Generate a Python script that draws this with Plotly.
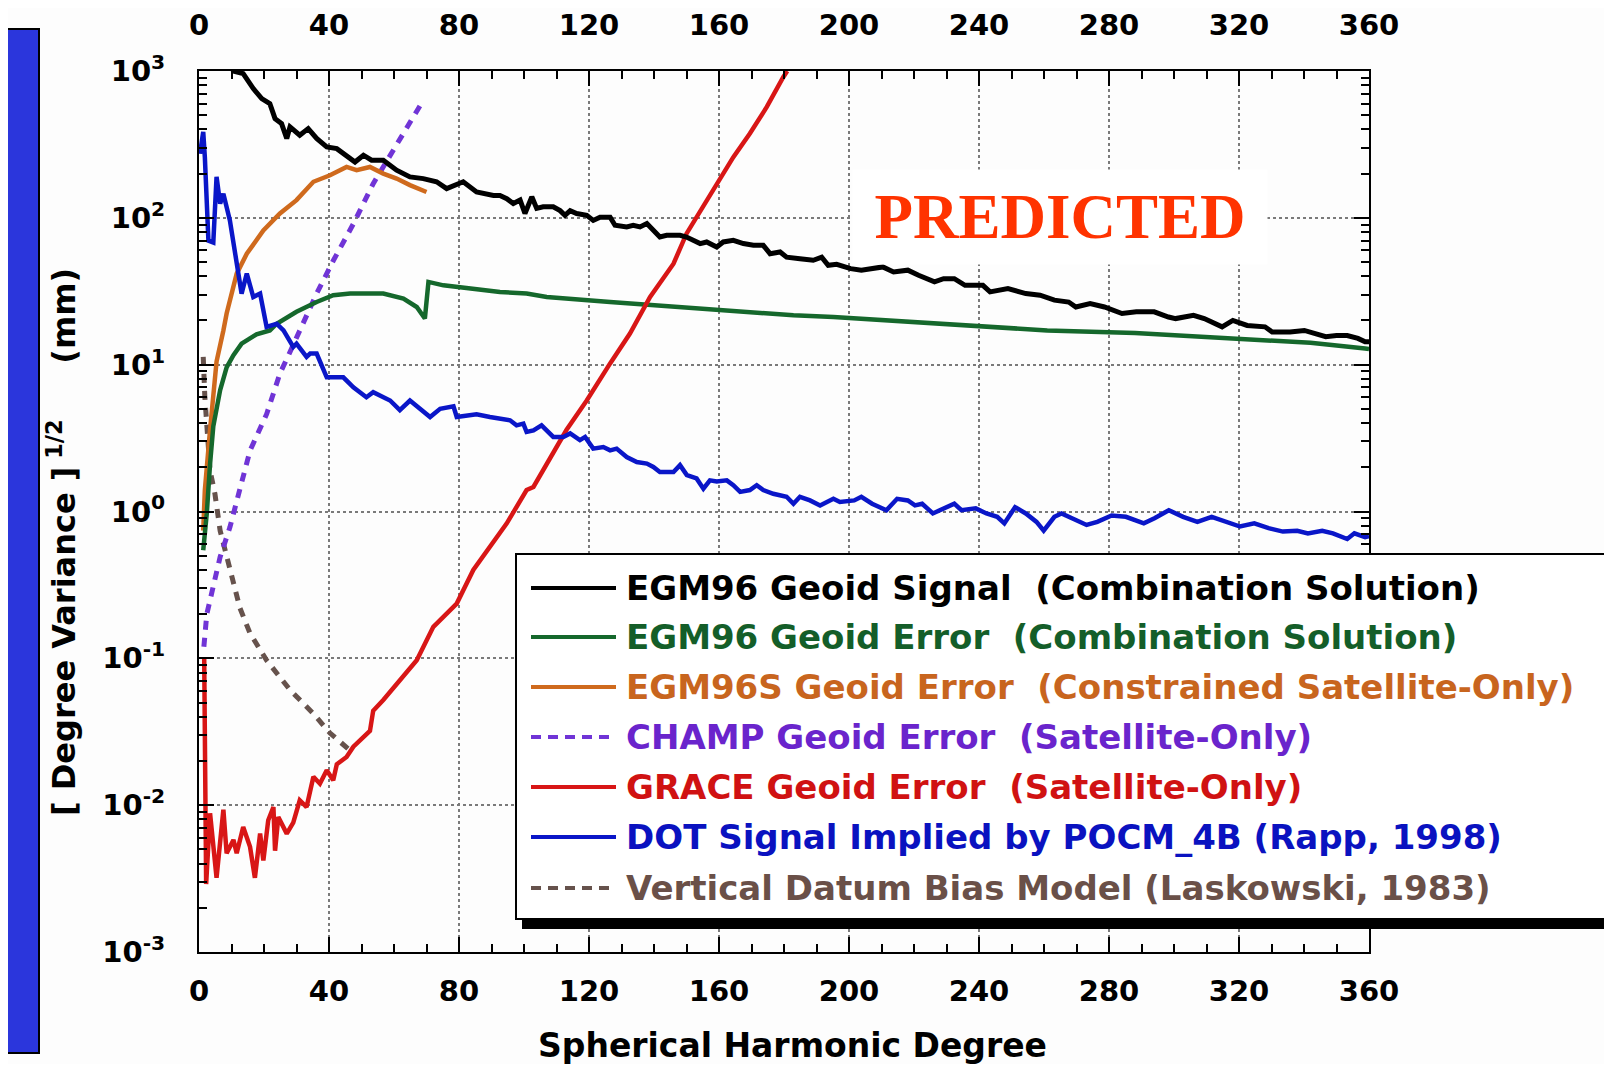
import plotly.graph_objects as go

# ---------------- data ----------------
signal_deg = [8, 10.6, 13.6, 16.7, 19.3, 21.8, 23.4, 25.4, 27, 28, 31, 33.6, 36.2, 39.3, 42.4, 44.4, 48,
              50.6, 53.1, 56.7, 60.8, 64.9, 69, 73.1, 76.2, 81.3, 85.4, 90.6,
              92.6, 94.7, 96.7, 98.8, 100.3, 102.4, 103.9, 105.9, 109, 111.1, 112.6, 114.2, 116.2, 119.3,
              121.3, 123.4, 126.5, 128, 131.6, 133.6, 135.7, 137.8, 139.8, 141.8, 143.9, 148, 150, 152.1,
              154.2, 156.2, 159.3, 161.3, 164.4, 167.5, 170.6, 173.6, 175.7, 178.8, 180.8, 184.9, 189,
              191.6, 193.6, 196.2, 200.5, 203.8, 208.2, 210.4, 213.7, 218.1, 221.4, 226.3, 229.1, 232.4,
              235.7, 241.2, 243.4, 248.9, 254.4, 258.8, 263.2, 267.6, 269.8, 274.2, 278.6, 284, 288.4,
              293.9, 298.3, 300.5, 306, 309.3, 314.8, 318.1, 322.5, 328, 330.2, 335.7, 340.1, 344.5,
              346.7, 350, 353.3, 356.6, 358.8, 360]
signal_val = [1300, 1000, 960, 759, 649, 600, 474, 438, 347, 416, 365, 405, 347, 304, 296, 273, 240,
              267, 247, 247, 211, 190, 185, 176, 158, 176, 150, 142,
              142, 135, 125, 132, 107, 139, 116, 119, 119, 112, 104, 112, 107, 104,
              96, 101, 101, 89, 86.7, 89, 86.7, 91.4, 82.2, 74, 76, 76, 74, 70.3,
              66.8, 68.5, 63.3, 68.5, 70.3, 66.8, 65, 65, 57, 58.5, 54, 52.7, 51.4,
              54, 47.5, 48.3, 45.1, 44, 45.1, 46.3, 42.8, 44, 40.6, 36.6, 38.5, 38.5,
              34.7, 34.7, 31.3, 33, 30.5, 29.7, 27.5, 26.7, 24.7, 26.1, 24.7, 22.3, 22.9,
              22.9, 21.1, 20.6, 21.7, 20.6, 18.1, 20, 18.5, 18.1, 16.7, 16.7, 17.1, 15.8,
              15.5, 15.8, 15.8, 15.1, 14.3, 14.3]

egm_err_deg = [1.3, 2.4, 3.4, 4.4, 6.5, 8.5, 10.6, 13.1, 17.7, 21.8, 23.9, 30, 36.2, 41.3, 46.5, 56.7,
               62.9, 67, 69.5, 70.6, 75.2, 84.4, 92.6, 100.8, 107, 126.5, 147, 169.5, 182.9, 195.2,
               207.5, 220.5, 235.7, 261, 288, 316, 342, 358.8, 360]
egm_err_val = [0.545, 0.97, 2.1, 3.8, 6.7, 9.6, 11.6, 13.9, 16.1, 17.1, 19, 22.9, 26.7, 29.7, 30.5, 30.5,
               28.2, 24.7, 20.6, 36.6, 34.7, 33, 31.3, 30.5, 28.9, 26.7, 24.7, 22.9, 21.7, 21.1,
               20.3, 19.6, 18.8, 17.1, 16.4, 15.3, 14.1, 12.9, 12.8]

egm96s_deg = [1.3, 1.8, 3.4, 5.4, 7.5, 8.5, 11.6, 14.7, 19.8, 24.9, 30, 35.2, 40.3, 45.4, 48.5, 52.6,
              56.7, 60.8, 64.9, 70]
egm96s_val = [0.74, 1.4, 3.6, 10.5, 17.1, 22.3, 41.7, 57, 82, 107, 132, 176, 195, 222, 211, 222,
              200, 185, 167, 150]

champ_deg = [1.5, 2.4, 4.4, 6.5, 9.5, 12.6, 15.7, 20.8, 24.9, 28, 31, 36.2, 41.3, 47.5, 53.6, 59.8, 64.9, 69]
champ_val = [0.12, 0.2, 0.31, 0.49, 0.78, 1.47, 2.6, 4.6, 8.7, 12.2, 17.1, 30.5, 51, 91, 171, 288, 438, 631]

grace_deg = [1.6, 2.2, 3.4, 5.4, 7.5, 8.5, 10.6, 11.6, 13.6, 15.7, 17.2, 18.8, 19.8, 21.3, 22.9, 23.4,
             24.4, 27, 29, 31, 33.1, 35.2, 37.2, 39.3, 41.3, 42.4, 45.4, 47.5, 52.6, 53.6, 56.7, 61.8,
             67, 72.1, 79.3, 84.4, 89.5, 94.7, 100.8, 102.9, 113.1, 119.3, 126.5, 132.6, 138.8, 146,
             150, 159.3, 164.4, 169.5, 174.7, 179.8, 181]
grace_val = [0.1, 0.0029, 0.0088, 0.0032, 0.0093, 0.0047, 0.0058, 0.0047, 0.0071, 0.0052, 0.0032, 0.0064,
             0.0042, 0.0079, 0.0097, 0.0049, 0.0083, 0.0064, 0.0076, 0.0108, 0.0097, 0.0156, 0.014, 0.0173,
             0.0148, 0.019, 0.0213, 0.025, 0.032, 0.044, 0.052, 0.071, 0.097, 0.164, 0.236, 0.4, 0.57,
             0.83, 1.4, 1.47, 3.6, 5.7, 10.2, 16.3, 28.9, 48.7, 78, 171, 259, 375, 569, 910, 1000]

dot_deg = [0.3, 1.3, 1.8, 2.9, 4.4, 5.4, 6.5, 7.5, 9.5, 11.6, 13.1, 14.7, 16.7, 18.8, 20.8, 23.9, 26,
           29, 30, 33.1, 34.2, 36.2, 39.3, 44.4, 47.5, 51.5, 53.6, 58.8, 61.8, 64.9, 71.1, 74.2, 78.3,
           79.3, 85.4, 89.5,
           92.6, 95.7, 97.7, 99.8, 100.8, 102.9, 105.4, 107, 109, 112.1, 114.2, 117.2, 118.8, 121.3,
           124.4, 126.5, 128.5, 131.6, 134.7, 137.8, 139.8, 141.8, 146, 148, 150.1, 153.1, 155.2,
           157.2, 159.3, 162.4, 164.4, 166.5, 169.5, 171.6, 173.6, 176.7, 180.8, 182.9, 184.9, 188,
           191.1, 195.2, 197.2, 201.6, 203.8, 207.1, 211.5, 214.8, 218.1, 220.3, 222.5, 225.8, 229.1,
           232.4, 234.6, 239, 242.3, 245.6, 247.8, 251.1, 254.4, 257.7, 259.9, 263.2, 265.4, 268.7,
           273.1, 276.4, 280.8, 285.2, 290.7, 294, 298.4, 302.8, 307.2, 311.6, 316, 320.3, 324.7,
           329.1, 333.5, 337.9, 341.2, 345.6, 348.9, 353.3, 355.5, 358.8, 360]
dot_val = [273, 385, 259, 70, 68, 190, 125, 146, 96, 51, 30.5, 41.7, 28.9, 30.5, 18.1, 19, 17.1,
           13.2, 13.9, 11.3, 11.9, 11.9, 8.2, 8.2, 7.0, 6.0, 6.5, 5.7, 4.9, 5.7, 4.4, 5.0, 5.2,
           4.4, 4.6, 4.4,
           4.30, 4.18, 3.86, 3.97, 3.48, 3.57, 3.86, 3.57, 3.22, 3.22, 3.40, 3.06, 3.22, 2.68,
           2.75, 2.61, 2.68, 2.35, 2.17, 2.12, 2.01, 1.86, 1.86, 2.07, 1.77, 1.68, 1.43,
           1.63, 1.60, 1.63, 1.51, 1.36, 1.40, 1.51, 1.40, 1.32, 1.26, 1.13, 1.26, 1.19,
           1.10, 1.22, 1.16, 1.19, 1.26, 1.13, 1.02, 1.22, 1.19, 1.10, 1.13, 0.97, 1.05,
           1.13, 1.02, 1.05, 0.97, 0.92, 0.83, 1.07, 0.97, 0.85, 0.74, 0.92, 0.97, 0.90,
           0.81, 0.85, 0.94, 0.92, 0.83, 0.90, 1.02, 0.92, 0.85, 0.92, 0.85, 0.79, 0.83,
           0.77, 0.73, 0.74, 0.71, 0.74, 0.71, 0.65, 0.71, 0.67, 0.68]

datum_deg = [1.3, 1.8, 3.4, 4.9, 6.5, 8, 9.5, 12.6, 15.7, 20.8, 28, 31, 35.2, 40.3, 44.4, 47.5]
datum_val = [11.3, 6, 1.9, 1.32, 0.74, 0.54, 0.4, 0.22, 0.148, 0.097, 0.061, 0.052, 0.042, 0.031, 0.026, 0.0225]

x_ticks = [0, 40, 80, 120, 160, 200, 240, 280, 320, 360]
y_ticks = [0.001, 0.01, 0.1, 1, 10, 100, 1000]
y_ticktext = ["10<sup>-3</sup>", "10<sup>-2</sup>", "10<sup>-1</sup>", "10<sup>0</sup>",
              "10<sup>1</sup>", "10<sup>2</sup>", "10<sup>3</sup>"]

series_names = [
    "EGM96 Geoid Signal \u00a0(Combination Solution)",
    "EGM96 Geoid Error \u00a0(Combination Solution)",
    "EGM96S Geoid Error \u00a0(Constrained Satellite-Only)",
    "CHAMP Geoid Error \u00a0(Satellite-Only)",
    "GRACE Geoid Error \u00a0(Satellite-Only)",
    "DOT Signal Implied by POCM_4B (Rapp, 1998)",
    "Vertical Datum Bias Model (Laskowski, 1983)",
]
series_x = [signal_deg, egm_err_deg, egm96s_deg, champ_deg, grace_deg, dot_deg, datum_deg]
series_y = [signal_val, egm_err_val, egm96s_val, champ_val, grace_val, dot_val, datum_val]
line_colors = ["#000000", "#15682c", "#cf6a1d", "#7034d6", "#d81616", "#0a16c8", "#66524c"]
text_colors = ["#000000", "#145e29", "#c8651e", "#6a24cc", "#d01212", "#0a12c0", "#6a5048"]
line_dash = ["solid", "solid", "solid", "9px,8px", "solid", "solid", "9px,8px"]
line_width = [5, 4.5, 4.5, 5, 4.5, 4.5, 5]

# ---------------- geometry (screen pixels; page body has an 8px margin) ----------------
OFF = 8
W, H = 1612 - 2 * OFF, 1072 - 2 * OFF
L, R, T, B = 199, 1369, 71, 952   # plot area in screen pixels


def px(x):
    return (x - L) / (R - L)


def py(y):
    return (B - y) / (B - T)


fig = go.Figure()

order = [6, 3, 2, 1, 4, 5, 0]
for i in order:
    fig.add_trace(go.Scatter(
        x=series_x[i], y=series_y[i], mode="lines", name=series_names[i],
        line=dict(color=line_colors[i], width=line_width[i], dash=line_dash[i]),
        showlegend=False, hoverinfo="skip"))

# invisible trace to activate top / right axes
fig.add_trace(go.Scatter(x=[180], y=[1], xaxis="x2", yaxis="y2", mode="markers",
                         marker=dict(opacity=0), showlegend=False, hoverinfo="skip"))

tick_font = dict(family="DejaVu Sans", size=29, color="black", weight="bold")
common_x = dict(range=[0, 360], tickmode="array", tickvals=x_ticks, ticks="inside", ticklen=15,
                tickwidth=2, tickcolor="black", showline=True, linecolor="black", linewidth=2,
                tickfont=tick_font, automargin=False,
                minor=dict(dtick=10, tick0=0, ticks="inside", ticklen=8, tickwidth=2, tickcolor="black",
                           showgrid=False))
common_y = dict(type="log", range=[-3, 3], tickmode="array", tickvals=y_ticks, ticktext=y_ticktext,
                ticks="inside", ticklen=15, tickwidth=2, automargin=False,
                tickcolor="black", showline=True, linecolor="black", linewidth=2,
                minor=dict(dtick="D1", ticks="inside", ticklen=8, tickwidth=2, tickcolor="black",
                           showgrid=False))

fig.update_layout(
    width=W, height=H, autosize=False,
    margin=dict(l=L - OFF, r=(W + OFF) - R, t=T - OFF, b=(H + OFF) - B, pad=0),
    paper_bgcolor="#fdfdfd", plot_bgcolor="#fdfdfd",
    xaxis=dict(**common_x, showgrid=True, gridcolor="#7a7a7a", griddash="dot", gridwidth=1.5,
               zeroline=False, ticklabelstandoff=12),
    xaxis2=dict(**common_x, overlaying="x", side="top", showgrid=False, zeroline=False,
                ticklabelstandoff=22),
    yaxis=dict(**common_y, showgrid=True, gridcolor="#7a7a7a", griddash="dot", gridwidth=1.5,
               showticklabels=True,
               tickfont=dict(family="DejaVu Sans", size=29, color="black", weight="bold"),
               ticklabelstandoff=26),
    yaxis2=dict(**common_y, overlaying="y", side="right", showgrid=False, showticklabels=False),
    showlegend=False,
)

shapes = []
annotations = []

# left blue bar
shapes.append(dict(type="rect", xref="paper", yref="paper", x0=px(7), x1=px(39), y0=py(1053), y1=py(29),
                   fillcolor="#2b36dc", line=dict(color="black", width=2), layer="above"))

# legend box with drop shadow
shapes.append(dict(type="rect", xref="paper", yref="paper", x0=px(522), x1=px(1720), y0=py(929), y1=py(562),
                   fillcolor="black", line=dict(width=0), layer="above"))
shapes.append(dict(type="rect", xref="paper", yref="paper", x0=px(516), x1=px(1720), y0=py(919), y1=py(554),
                   fillcolor="white", line=dict(color="black", width=2), layer="above"))

row_y = [588, 637, 687, 737, 787, 837, 888]
for i, name in enumerate(series_names):
    shapes.append(dict(type="line", xref="paper", yref="paper", x0=px(531), x1=px(616),
                       y0=py(row_y[i]), y1=py(row_y[i]),
                       line=dict(color=line_colors[i], width=4,
                                 dash="solid" if line_dash[i] == "solid" else "10px,7px"),
                       layer="above"))
    annotations.append(dict(xref="paper", yref="paper", x=px(624), y=py(row_y[i]), xanchor="left",
                            yanchor="middle", text=name, showarrow=False,
                            font=dict(family="DejaVu Sans", size=34, color=text_colors[i], weight="bold")))

# PREDICTED label
annotations.append(dict(xref="paper", yref="paper", x=px(1060), y=py(217), xanchor="center", yanchor="middle",
                        text="PREDICTED", showarrow=False, bgcolor="white", width=412, height=92,
                        font=dict(family="Liberation Serif", size=63, color="#ff3300", weight="bold")))

# axis titles
annotations.append(dict(xref="paper", yref="paper", x=px(792), y=py(1045), xanchor="center", yanchor="middle",
                        text="Spherical Harmonic Degree", showarrow=False,
                        font=dict(family="DejaVu Sans", size=33, color="black", weight="bold")))
annotations.append(dict(xref="paper", yref="paper", x=px(62), y=py(542), xanchor="center", yanchor="middle",
                        text="[ Degree Variance ]<sup> 1/2</sup>\u00a0\u00a0\u00a0\u00a0\u00a0(mm)",
                        textangle=-90, showarrow=False,
                        font=dict(family="DejaVu Sans", size=32, color="black", weight="bold")))

fig.update_layout(shapes=shapes, annotations=annotations)

fig.write_html("out.html")
